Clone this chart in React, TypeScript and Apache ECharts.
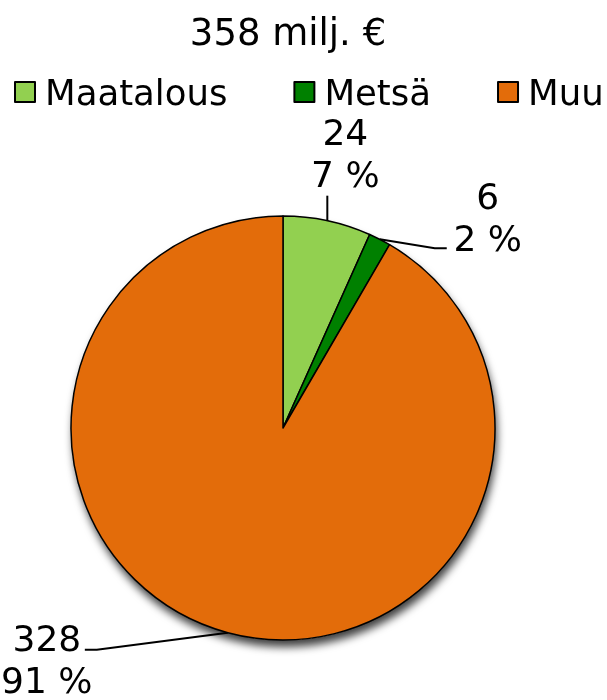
import React, { useEffect, useRef } from "react";
import * as echarts from "echarts";

const categories = ["Maatalous", "Metsä", "Muu"];
const values = [24, 6, 328];
const colors = ["#92D050", "#008000", "#E36C0A"];
const titleText = "358 milj. €";

const FONT = "DejaVu Sans, Verdana, sans-serif";

export default function App() {
  const ref = useRef<HTMLDivElement>(null);
  useEffect(() => {
    if (!ref.current) return;
    const chart = echarts.init(ref.current, null, { renderer: "svg" });
    const cx = 283;
    const cy = 428;
    const r = 212;
    const labelOffsets: Record<number, any> = {
      0: { bend: [0, -25], end: [0, -25], text: [18, -25], va: "bottom" },
      1: { bend: [55, 9], end: [67, 9], text: [108, -22], va: "middle" },
      2: { bend: [-131, 17], end: [-143, 17], text: [-181, 27], va: "middle" },
    };
    chart.setOption({
      animation: false,
      title: {
        text: titleText,
        left: cx,
        textAlign: "center",
        top: 9,
        textStyle: { fontFamily: FONT, fontSize: 37, fontWeight: "normal", color: "#000" },
      },
      legend: {
        data: categories,
        left: 9,
        top: 69,
        width: 700,
        icon: "rect",
        itemWidth: 20,
        itemHeight: 20,
        itemGap: 66,
        textStyle: { fontFamily: FONT, fontSize: 35.5, color: "#000", padding: [0, 0, 0, 5] },
        itemStyle: { borderColor: "#000", borderWidth: 2 },
      },
      series: [
        {
          type: "pie",
          silent: true,
          center: [cx, cy],
          radius: r,
          z: 1,
          label: { show: false },
          labelLine: { show: false },
          itemStyle: {
            color: "#fff",
            shadowColor: "rgba(0,0,0,0.75)",
            shadowBlur: 8,
            shadowOffsetX: 2,
            shadowOffsetY: 7,
          },
          data: [{ value: 1, name: "_shadow" }],
        },
        {
          type: "pie",
          center: [cx, cy],
          radius: r,
          startAngle: 90,
          clockwise: true,
          percentPrecision: 0,
          z: 2,
          itemStyle: { borderColor: "#000", borderWidth: 1.5 },
          label: {
            show: true,
            position: "outside",
            formatter: "{c}\n{d} %",
            fontFamily: FONT,
            fontSize: 36,
            lineHeight: 42,
            color: "#000",
            align: "center",
          },
          labelLine: {
            show: true,
            lineStyle: { color: "#000", width: 2 },
          },
          labelLayout: (params: any) => {
            const o = labelOffsets[params.dataIndex];
            const pts = params.labelLinePoints;
            if (!o || !pts) return {};
            const p0 = pts[0];
            return {
              x: p0[0] + o.text[0],
              y: p0[1] + o.text[1],
              align: "center",
              verticalAlign: o.va,
              labelLinePoints: [
                [p0[0], p0[1]],
                [p0[0] + o.bend[0], p0[1] + o.bend[1]],
                [p0[0] + o.end[0], p0[1] + o.end[1]],
              ],
            };
          },
          data: categories.map((name, i) => ({
            name,
            value: values[i],
            itemStyle: { color: colors[i] },
          })),
        },
      ],
    });
    return () => chart.dispose();
  }, []);
  return (
    <div
      ref={ref}
      style={{ position: "fixed", left: 0, top: 0, width: 607, height: 700 }}
    />
  );
}
